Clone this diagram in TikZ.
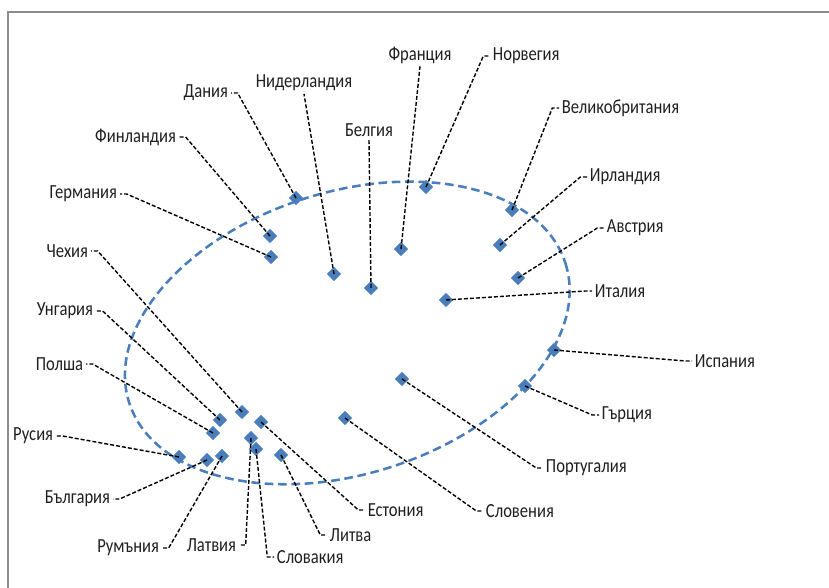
\documentclass[tikz,border=0pt]{standalone}
\usepackage{fontspec}
\setmainfont{Carlito}[FakeStretch=0.83]
\usepackage{xcolor}
\usetikzlibrary{shapes.geometric, positioning}

\definecolor{serie}{HTML}{4A7EBB}
\definecolor{chartframe}{HTML}{8C8C8C}

\begin{document}
\begin{tikzpicture}[x=0.75pt, y=-0.75pt,
    dmd/.style={diamond, fill=serie, inner sep=0pt, minimum size=11pt},
    lbl/.style={font=\fontsize{15}{17}\selectfont, text=black!88, inner sep=2pt},
    leader/.style={black, line width=1.05pt, dash pattern=on 3pt off 1.5pt}]
                        \useasboundingbox (0,0) rectangle (829,588);
                        \draw[chartframe, line width=1.5pt] (8,588) -- (8,12) -- (829,12);
                        \draw[serie, line width=1.9pt, dash pattern=on 6.5pt off 3.5pt, rotate around={17.7:(347,332)}]
                        (347,333) ellipse [x radius=229, y radius=141];

                        \node[dmd] (dk) at (296,198) {};
                        \node[dmd] (fi) at (270,236) {};
                        \node[dmd] (de) at (271,257) {};
                        \node[dmd] (nl) at (334,274) {};
                        \node[dmd] (be) at (371,288) {};
                        \node[dmd] (fr) at (401,249) {};
                        \node[dmd] (no) at (426,187) {};
                        \node[dmd] (gb) at (512,210) {};
                        \node[dmd] (ie) at (500,245) {};
                        \node[dmd] (at) at (518,278) {};
                        \node[dmd] (it) at (446,300) {};
                        \node[dmd] (es) at (554,350) {};
                        \node[dmd] (gr) at (525,386) {};
                        \node[dmd] (pt) at (402,379) {};
                        \node[dmd] (si) at (345,418) {};
                        \node[dmd] (ee) at (261,422) {};
                        \node[dmd] (lt) at (281,455) {};
                        \node[dmd] (sk) at (256,449) {};
                        \node[dmd] (lv) at (251,438) {};
                        \node[dmd] (cz) at (242,412) {};
                        \node[dmd] (hu) at (220,420) {};
                        \node[dmd] (pl) at (213,433) {};
                        \node[dmd] (ru) at (179,457) {};
                        \node[dmd] (bg) at (207,460) {};
                        \node[dmd] (ro) at (222,456) {};

                        % labels on the right of their leader
                        \node[lbl, anchor=west] (Lno) at (490,56) {Норвегия};
                        \node[lbl, anchor=west] (Lgb) at (559,108) {Великобритания};
                        \node[lbl, anchor=west] (Lie) at (587,177) {Ирландия};
                        \node[lbl, anchor=west] (Lat) at (604,228) {Австрия};
                        \node[lbl, anchor=west] (Lit) at (592,291) {Италия};
                        \node[lbl, anchor=west] (Les) at (692,361) {Испания};
                        \node[lbl, anchor=west] (Lgr) at (599,415) {Гърция};
                        \node[lbl, anchor=west] (Lpt) at (543,468) {Португалия};
                        \node[lbl, anchor=west] (Lsi) at (483,511) {Словения};
                        \node[lbl, anchor=west] (Lee) at (365,510) {Естония};
                        \node[lbl, anchor=west] (Llt) at (327,535) {Литва};
                        \node[lbl, anchor=west] (Lsk) at (274,557) {Словакия};
                        % labels on the left of their leader
                        \node[lbl, anchor=east] (Ldk) at (231,93) {Дания};
                        \node[lbl, anchor=east] (Lfi) at (179,137) {Финландия};
                        \node[lbl, anchor=east] (Lde) at (120,194) {Германия};
                        \node[lbl, anchor=east] (Lcz) at (91,251) {Чехия};
                        \node[lbl, anchor=east] (Lhu) at (96,311) {Унгария};
                        \node[lbl, anchor=east] (Lpl) at (86,364) {Полша};
                        \node[lbl, anchor=east] (Lru) at (56,436) {Русия};
                        \node[lbl, anchor=east] (Lbg) at (113,499) {България};
                        \node[lbl, anchor=east] (Lro) at (162,548) {Румъния};
                        \node[lbl, anchor=east] (Llv) at (239,545) {Латвия};
                        % labels above their leader
                        \node[lbl] (Lnl) at (304,83) {Нидерландия};
                        \node[lbl] (Lbe) at (369,130) {Белгия};
                        \node[lbl] (Lfr) at (420,55) {Франция};

                        \draw[leader]
                        (no.center) -- ([xshift=-5pt]Lno.west) -- (Lno.west)
                        (gb.center) -- ([xshift=-5pt]Lgb.west) -- (Lgb.west)
                        (ie.center) -- ([xshift=-5pt]Lie.west) -- (Lie.west)
                        (at.center) -- ([xshift=-5pt]Lat.west) -- (Lat.west)
                        (it.center) -- ([xshift=-5pt]Lit.west) -- (Lit.west)
                        (es.center) -- ([xshift=-5pt]Les.west) -- (Les.west)
                        (gr.center) -- ([xshift=-5pt]Lgr.west) -- (Lgr.west)
                        (pt.center) -- ([xshift=-5pt]Lpt.west) -- (Lpt.west)
                        (si.center) -- ([xshift=-5pt]Lsi.west) -- (Lsi.west)
                        (ee.center) -- ([xshift=-5pt]Lee.west) -- (Lee.west)
                        (lt.center) -- ([xshift=-5pt]Llt.west) -- (Llt.west)
                        (sk.center) -- ([xshift=-5pt]Lsk.west) -- (Lsk.west)
                        (dk.center) -- ([xshift=5pt]Ldk.east) -- (Ldk.east)
                        (fi.center) -- ([xshift=5pt]Lfi.east) -- (Lfi.east)
                        (de.center) -- ([xshift=5pt]Lde.east) -- (Lde.east)
                        (cz.center) -- ([xshift=5pt]Lcz.east) -- (Lcz.east)
                        (hu.center) -- ([xshift=5pt]Lhu.east) -- (Lhu.east)
                        (pl.center) -- ([xshift=5pt]Lpl.east) -- (Lpl.east)
                        (ru.center) -- ([xshift=5pt]Lru.east) -- (Lru.east)
                        (bg.center) -- ([xshift=5pt]Lbg.east) -- (Lbg.east)
                        (ro.center) -- ([xshift=5pt]Lro.east) -- (Lro.east)
                        (lv.center) -- ([xshift=5pt]Llv.east) -- (Llv.east)
                        (nl.center) -- (Lnl.south)
                        (be.center) -- (Lbe.south)
                        (fr.center) -- (Lfr.south);
                    \end{tikzpicture}
\end{document}
